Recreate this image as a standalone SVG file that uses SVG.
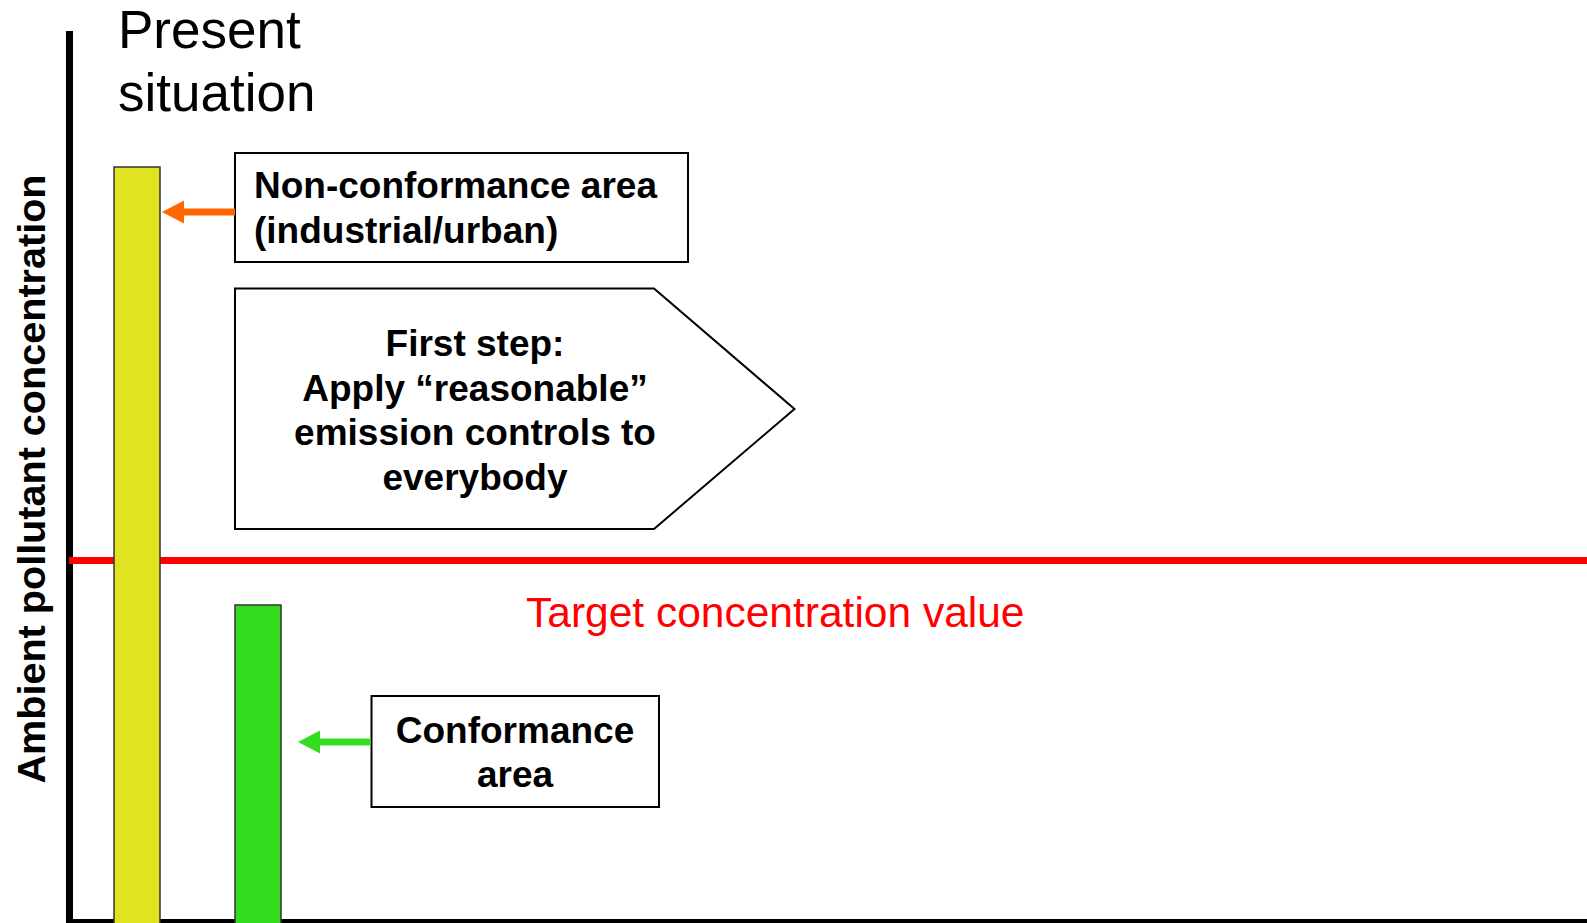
<svg xmlns="http://www.w3.org/2000/svg" width="1587" height="923" viewBox="0 0 1587 923">
<style>
.bold{font-family:"Liberation Sans",Arial,sans-serif;font-weight:bold;font-size:37px;fill:#000}
.reg{font-family:"Liberation Sans",Arial,sans-serif;font-weight:normal;fill:#000}
.box{fill:#fff;stroke:#000;stroke-width:2}
.bar{stroke:#333;stroke-width:1.5}
.arr{stroke-width:7;fill:none}
</style>
<defs>
<marker id="ahO" markerUnits="userSpaceOnUse" markerWidth="23" markerHeight="24" viewBox="0 -12 23 24" refX="1" refY="0" orient="auto" overflow="visible">
<path d="M0,-11.5 L22,0 L0,11.5 z" fill="#FF6600"/>
</marker>
<marker id="ahG" markerUnits="userSpaceOnUse" markerWidth="23" markerHeight="24" viewBox="0 -12 23 24" refX="1" refY="0" orient="auto" overflow="visible">
<path d="M0,-11.5 L22,0 L0,11.5 z" fill="#33DD22"/>
</marker>
</defs>
<rect width="1587" height="923" fill="#fff"/>
<g id="axes">
<rect x="66" y="31" width="7" height="892" fill="#000"/>
<rect x="66" y="919" width="1521" height="4" fill="#000"/>
<text class="bold" transform="translate(45,479) rotate(-90)" text-anchor="middle" style="font-size:39.6px">Ambient pollutant concentration</text>
</g>
<g id="target-line">
<rect x="69" y="557" width="1518" height="7" fill="#FF0000"/>
<text class="reg" x="526" y="627" style="font-size:42.5px;fill:#FF0000">Target concentration value</text>
</g>
<g id="title">
<text class="reg" x="118" y="48" style="font-size:53px">Present</text>
<text class="reg" x="118" y="111" style="font-size:53px">situation</text>
</g>
<g id="bar-nonconformance">
<rect class="bar" x="114" y="167" width="46" height="760" fill="#E0E320"/>
</g>
<g id="bar-conformance">
<rect class="bar" x="235" y="605" width="46" height="322" fill="#36DC1E"/>
</g>
<g id="node-nonconformance">
<rect class="box" x="235" y="153" width="453" height="109"/>
<text class="bold" x="254" y="198">Non-conformance area</text>
<text class="bold" x="254" y="243">(industrial/urban)</text>
</g>
<g id="node-firststep">
<polygon class="box" points="235,288.5 654,288.5 794.5,409 654,529 235,529"/>
<text class="bold" text-anchor="middle" x="475" y="356">First step:</text>
<text class="bold" text-anchor="middle" x="475" y="401">Apply “reasonable”</text>
<text class="bold" text-anchor="middle" x="475" y="445">emission controls to</text>
<text class="bold" text-anchor="middle" x="475" y="490">everybody</text>
</g>
<g id="node-conformance">
<rect class="box" x="371.5" y="696" width="287.5" height="111"/>
<text class="bold" text-anchor="middle" x="515" y="743">Conformance</text>
<text class="bold" text-anchor="middle" x="515" y="787">area</text>
</g>
<g id="connectors">
<line class="arr" x1="235" y1="212" x2="183" y2="212" stroke="#FF6600" marker-end="url(#ahO)"/>
<line class="arr" x1="371" y1="742" x2="319" y2="742" stroke="#33DD22" marker-end="url(#ahG)"/>
</g>
</svg>
